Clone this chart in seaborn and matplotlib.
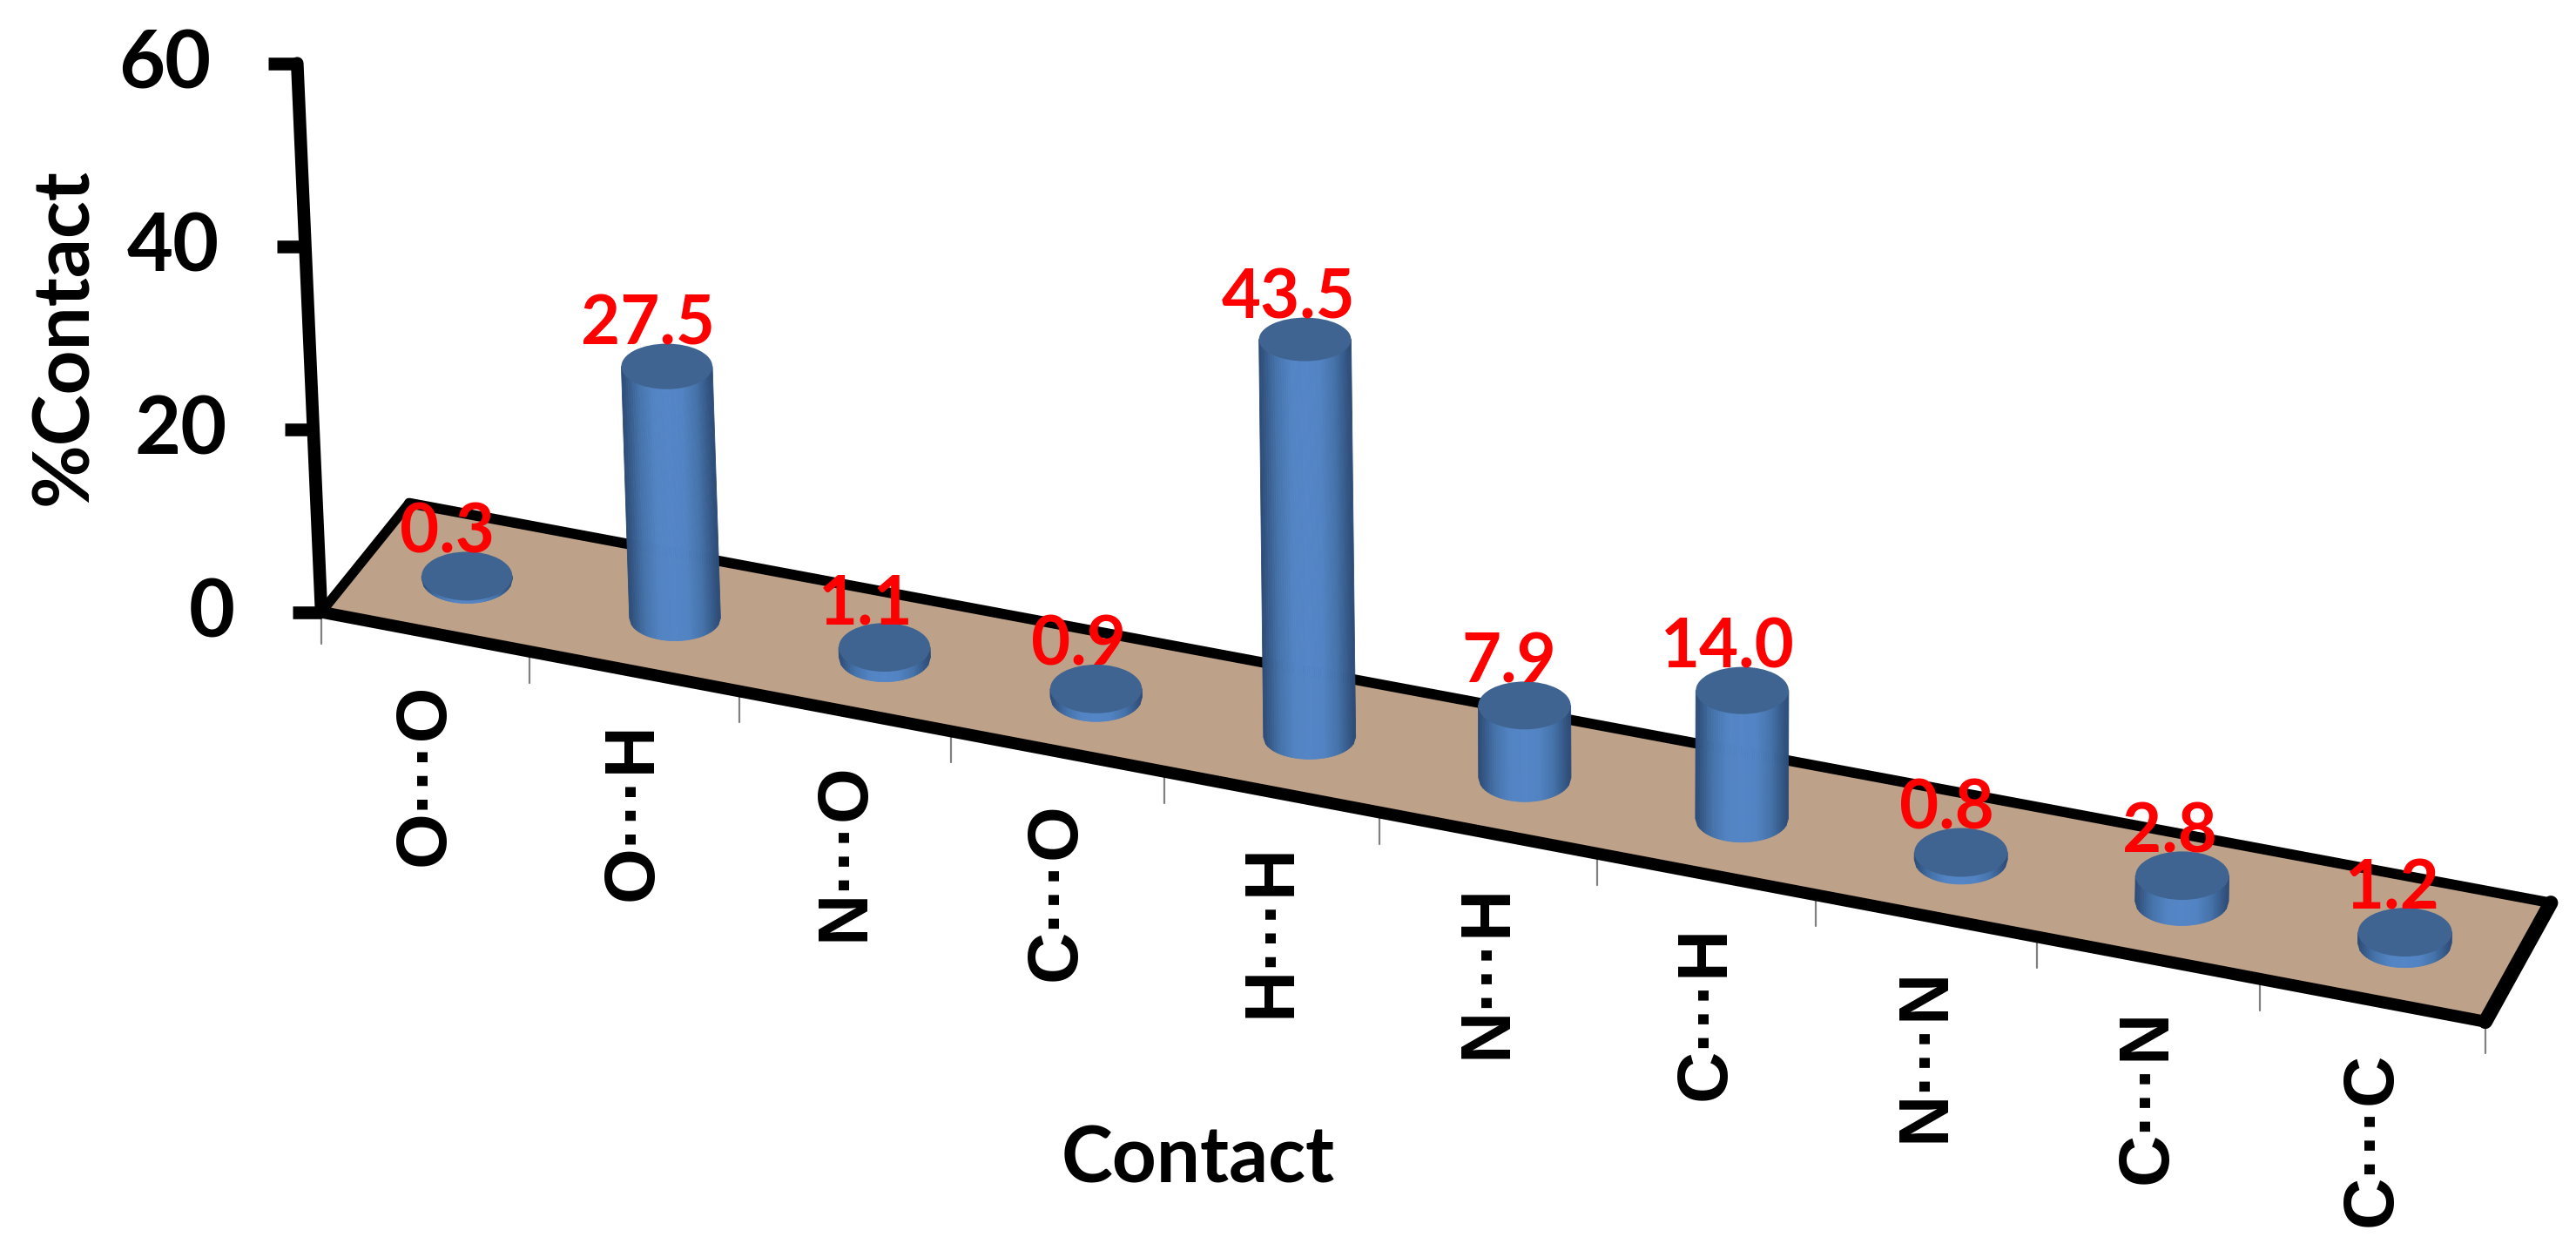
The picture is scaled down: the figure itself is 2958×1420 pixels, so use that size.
import numpy as np
import seaborn as sns
import matplotlib
matplotlib.use("Agg")
import matplotlib.pyplot as plt
from matplotlib.collections import PolyCollection
from matplotlib.patches import Ellipse, Polygon

contacts = ["O···O", "O···H", "N···O", "C···O", "H···H",
            "N···H", "C···H", "N···N", "C···N", "C···C"]
percent = [0.3, 27.5, 1.1, 0.9, 43.5, 7.9, 14.0, 0.8, 2.8, 1.2]
value_labels = ["0.3", "27.5", "1.1", "0.9", "43.5", "7.9", "14.0", "0.8", "2.8", "1.2"]
y_ticks = [0, 20, 40, 60]

W, H = 2958, 1420
PX_PER_UNIT = 10.5  # pixels per % along the vertical axis
DEPTH = 0.48        # where the cylinders stand across the floor

FLOOR = "#BDA188"
TOP = "#3F6491"
RED = "#FF0000"

sns.set_theme(style="white")
plt.rcParams["font.family"] = ["Lato", "DejaVu Sans"]
side_colors = sns.blend_palette(["#2E4D78", "#4471A8", "#5283C3", "#5485C6", "#5283C3", "#4471A8", "#2E4D78"], 41)


def make_floor():
    # homography from (category, depth) to the picture, fitted on the floor's corners and mid tick
    src = [(0, 0), (5, 0), (10, 0), (0, 1), (10, 1)]
    dst = [(369, 703), (1584, 933), (2854, 1172), (470, 577), (2929, 1037)]
    a, b = [], []
    for (u, v), (x, y) in zip(src, dst):
        a.append([u, v, 1, 0, 0, 0, -u * x, -v * x])
        a.append([0, 0, 0, u, v, 1, -u * y, -v * y])
        b += [x, y]
    sol = np.linalg.lstsq(np.array(a, float), np.array(b, float), rcond=None)[0]
    return np.append(sol, 1).reshape(3, 3)


MAT = make_floor()


def floor_xy(u, v):
    p = MAT @ np.array([u, v, 1.0])
    return p[0] / p[2], p[1] / p[2]


def lift(x, y, h):
    # go up from the floor by h percent, verticals lean out slightly
    px = h * PX_PER_UNIT
    return x - px * (1900 - x) / 34800, y - px


def cylinder(ax, u, h):
    xb, yb = floor_xy(u, DEPTH)
    xt, yt = lift(xb, yb, h)
    r = 52 + 0.2 * u
    rh = 28 - 3 * h / 43.5
    ts = np.linspace(-1, 1, len(side_colors) + 1)
    strips = []
    for t0, t1 in zip(ts[:-1], ts[1:]):
        a0 = np.sqrt(max(1 - t0 ** 2, 0)) * rh
        a1 = np.sqrt(max(1 - t1 ** 2, 0)) * rh
        strips.append([(xt + r * t0, yt), (xt + r * t1, yt),
                       (xb + r * t1, yb + a1), (xb + r * t0, yb + a0)])
    ax.add_collection(PolyCollection(strips, facecolors=side_colors, edgecolors=side_colors,
                                     linewidths=0.6, zorder=3))
    ax.add_patch(Ellipse((xt, yt), 2 * r, 2 * rh, facecolor=TOP, edgecolor="none", zorder=4))
    return xt, yt - rh


fig = plt.figure(figsize=(W / 100, H / 100), dpi=100)
ax = fig.add_axes([0, 0, 1, 1])
ax.set_xlim(0, W)
ax.set_ylim(H, 0)
ax.axis("off")

# floor
fl, fr, bl, br = floor_xy(0, 0), floor_xy(10, 0), floor_xy(0, 1), floor_xy(10, 1)
ax.add_patch(Polygon([fl, fr, br, bl], facecolor=FLOOR, edgecolor="none", zorder=1))
for p, q, w in [(bl, br, 8.5), (fl, bl, 8)]:
    ax.plot([p[0], q[0]], [p[1], q[1]], color="black", lw=w, solid_capstyle="round", zorder=2)
for p, q, w in [(fl, fr, 10), (fr, br, 12)]:
    ax.plot([p[0], q[0]], [p[1], q[1]], color="black", lw=w, solid_capstyle="round", zorder=5)

# category ticks
for i in range(len(contacts) + 1):
    x, y = floor_xy(i, 0)
    ax.plot([x, x], [y, y + 36], color="#808080", lw=1.6, zorder=4)

# vertical axis
x0, y0 = lift(*fl, 0)
x1, y1 = lift(*fl, y_ticks[-1])
ax.plot([x0, x1], [y0, y1], color="black", lw=10.5, solid_capstyle="round", zorder=6)
for t in y_ticks:
    x, y = lift(*fl, t)
    ax.plot([x - 33, x], [y, y], color="black", lw=10.5, solid_capstyle="butt", zorder=6)
    ax.text(x - 99, y + 3, str(t), ha="right", va="center", fontsize=66, fontweight="bold",
            color="black", zorder=7)

# cylinders and their labels
for i, (h, lab) in enumerate(zip(percent, value_labels)):
    xt, ytop = cylinder(ax, i + 0.5, h)
    ax.text(xt - 23 + 1.0 * i, ytop + 1, lab, ha="center", va="baseline", fontsize=56,
            fontweight="bold", color=RED, zorder=8)

# category labels
for i, name in enumerate(contacts):
    x, y = floor_xy(i + 0.5, 0)
    ax.text(x, y + 59, name, rotation=90, ha="center", va="top", fontsize=59, fontweight="bold",
            family=["Liberation Sans", "DejaVu Sans"], color="black", zorder=7)

ax.text(1376, 1332, "Contact", ha="center", va="center", fontsize=64, fontweight="bold", color="black")
ax.text(74, 387, "%Contact", rotation=90, ha="center", va="center", fontsize=64, fontweight="bold", color="black")

fig.savefig("out.png", dpi=100, facecolor="white")
